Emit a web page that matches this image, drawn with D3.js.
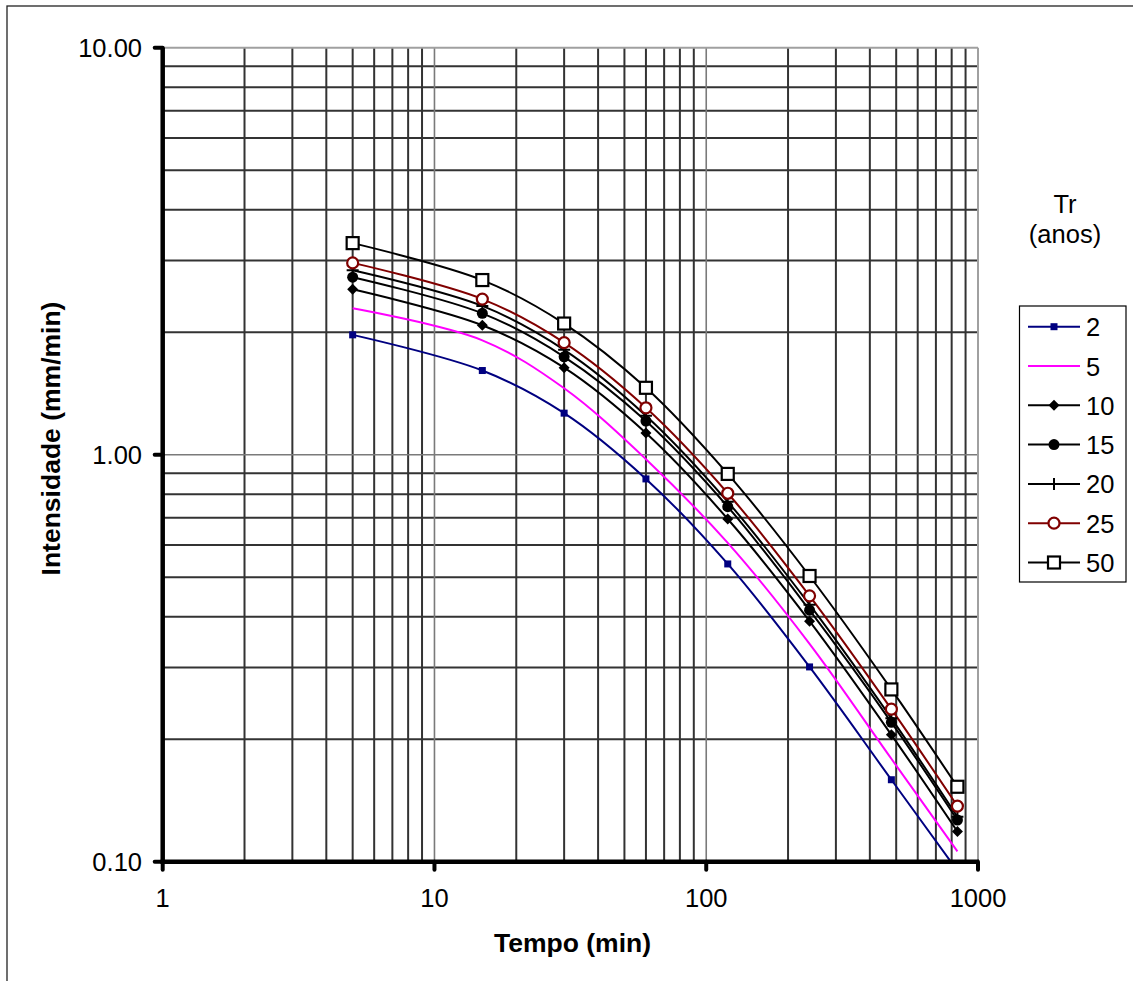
<!DOCTYPE html>
<html><head><meta charset="utf-8">
<script src="https://cdn.jsdelivr.net/npm/d3@7"></script>
<style>
body{margin:0;background:#fff;}
svg text{font-family:"Liberation Sans",Arial,sans-serif;fill:#000;}
</style></head>
<body><svg id="c" width="1133" height="981"></svg>
<script>
const tempo = [5, 15, 30, 60, 120, 240, 480, 840];
const seriesNames = ["2", "5", "10", "15", "20", "25", "50"];
const tr2  = [1.97, 1.61, 1.265, 0.872, 0.539, 0.301, 0.159, 0.095];
const tr5  = [2.29, 1.91, 1.456, 0.975, 0.607, 0.343, 0.179, 0.106];
const tr10 = [2.55, 2.08, 1.636, 1.13, 0.695, 0.390, 0.205, 0.1186];
const tr15 = [2.73, 2.225, 1.74, 1.21, 0.745, 0.415, 0.220, 0.1266];
const tr20 = [2.84, 2.32, 1.81, 1.247, 0.766, 0.428, 0.225, 0.129];
const tr25 = [2.96, 2.412, 1.885, 1.304, 0.804, 0.450, 0.237, 0.137];
const tr50 = [3.31, 2.686, 2.10, 1.46, 0.897, 0.5035, 0.265, 0.1528];
const xTicks = [1, 10, 100, 1000];
const yTicks = [0.1, 1, 10];

const seriesValues = [tr2, tr5, tr10, tr15, tr20, tr25, tr50];
const styles = [
  {color:"#000080", marker:"square"},
  {color:"#FF00FF", marker:"none"},
  {color:"#000000", marker:"diamond"},
  {color:"#000000", marker:"circle"},
  {color:"#000000", marker:"plus"},
  {color:"#800000", marker:"ocircle"},
  {color:"#000000", marker:"osquare"}
];

const svg = d3.select("#c");
const L = 162.7, R = 978, T = 47.7, B = 861.7;
const x = d3.scaleLog().domain([1, 1000]).range([L, R]);
const y = d3.scaleLog().domain([0.1, 10]).range([B, T]);

// outer border
svg.append("rect").attr("x", 7).attr("y", 6).attr("width", 1200).attr("height", 1200)
  .attr("fill", "none").attr("stroke", "#222").attr("stroke-width", 1.3);

// grid
const g = svg.append("g");
const minorX = [], majorX = [];
[1, 10, 100].forEach(d => { for (let k = 2; k <= 9; k++) minorX.push(d * k); });
const minorY = [];
[0.1, 1].forEach(d => { for (let k = 2; k <= 9; k++) minorY.push(d * k); });
g.selectAll(".mx").data(minorX).enter().append("line")
  .attr("x1", d => x(d)).attr("x2", d => x(d)).attr("y1", T).attr("y2", B)
  .attr("stroke", "#333").attr("stroke-width", 2);
g.selectAll(".my").data(minorY).enter().append("line")
  .attr("x1", L).attr("x2", R).attr("y1", d => y(d)).attr("y2", d => y(d))
  .attr("stroke", "#333").attr("stroke-width", 2);
g.selectAll(".Mx").data([10, 100]).enter().append("line")
  .attr("x1", d => x(d)).attr("x2", d => x(d)).attr("y1", T).attr("y2", B)
  .attr("stroke", "#7a7a7a").attr("stroke-width", 1.6);
g.selectAll(".My").data([1]).enter().append("line")
  .attr("x1", L).attr("x2", R).attr("y1", d => y(d)).attr("y2", d => y(d))
  .attr("stroke", "#7a7a7a").attr("stroke-width", 1.6);
// plot top/right borders
g.append("line").attr("x1", L).attr("x2", R).attr("y1", y(10)).attr("y2", y(10))
  .attr("stroke", "#a0a0a0").attr("stroke-width", 2);
g.append("line").attr("x1", x(1000)).attr("x2", x(1000)).attr("y1", T).attr("y2", B)
  .attr("stroke", "#a0a0a0").attr("stroke-width", 2);

// clip
svg.append("clipPath").attr("id", "clip").append("rect")
  .attr("x", L).attr("y", T).attr("width", R - L).attr("height", B - T);

const line = d3.line().x(d => x(d[0])).y(d => y(d[1])).curve(d3.curveCatmullRom.alpha(0.5));
const plot = svg.append("g").attr("clip-path", "url(#clip)");

function drawMarker(sel, type, color, cx, cy) {
  if (type === "square") {
    sel.append("rect").attr("x", cx - 3.5).attr("y", cy - 3.5).attr("width", 7).attr("height", 7).attr("fill", color);
  } else if (type === "diamond") {
    sel.append("path").attr("d", `M${cx},${cy-5.5}L${cx+5.5},${cy}L${cx},${cy+5.5}L${cx-5.5},${cy}Z`).attr("fill", color);
  } else if (type === "circle") {
    sel.append("circle").attr("cx", cx).attr("cy", cy).attr("r", 5.5).attr("fill", color);
  } else if (type === "plus") {
    sel.append("path").attr("d", `M${cx-6},${cy}H${cx+6}M${cx},${cy-6}V${cy+6}`).attr("stroke", color).attr("stroke-width", 2);
  } else if (type === "ocircle") {
    sel.append("circle").attr("cx", cx).attr("cy", cy).attr("r", 5.5).attr("fill", "#fff").attr("stroke", color).attr("stroke-width", 2.2);
  } else if (type === "osquare") {
    sel.append("rect").attr("x", cx - 6).attr("y", cy - 6).attr("width", 12).attr("height", 12).attr("fill", "#fff").attr("stroke", color).attr("stroke-width", 2.2);
  }
}

seriesValues.forEach((vals, i) => {
  const pts = tempo.map((t, j) => [t, vals[j]]);
  plot.append("path").attr("d", line(pts)).attr("fill", "none")
    .attr("stroke", styles[i].color).attr("stroke-width", 2);
});
seriesValues.forEach((vals, i) => {
  if (styles[i].marker === "none") return;
  tempo.forEach((t, j) => drawMarker(plot, styles[i].marker, styles[i].color, x(t), y(vals[j])));
});

// axes
const ax = svg.append("g");
ax.append("line").attr("x1", L).attr("x2", L).attr("y1", T).attr("y2", B + 2)
  .attr("stroke", "#000").attr("stroke-width", 4.5);
ax.append("line").attr("x1", L - 2).attr("x2", R + 1).attr("y1", B).attr("y2", B)
  .attr("stroke", "#000").attr("stroke-width", 4.5);
yTicks.forEach(v => {
  ax.append("line").attr("x1", L - 8).attr("x2", L).attr("y1", y(v)).attr("y2", y(v))
    .attr("stroke", "#000").attr("stroke-width", 4).attr("stroke-linecap", "round");
  ax.append("text").attr("x", 142).attr("y", y(v) + 9.2).attr("text-anchor", "end")
    .attr("font-size", "25.5px").text(v.toFixed(2));
});
xTicks.forEach(v => {
  ax.append("line").attr("x1", x(v)).attr("x2", x(v)).attr("y1", B).attr("y2", B + 8)
    .attr("stroke", "#000").attr("stroke-width", 4).attr("stroke-linecap", "round");
  ax.append("text").attr("x", x(v)).attr("y", 907).attr("text-anchor", "middle")
    .attr("font-size", "25.5px").text(String(v));
});

// titles
svg.append("text").attr("x", 572.5).attr("y", 952).attr("text-anchor", "middle")
  .attr("font-size", "26.5px").attr("font-weight", "bold").text("Tempo (min)");
svg.append("text").attr("transform", "translate(59.5,438.5) rotate(-90)").attr("text-anchor", "middle")
  .attr("font-size", "26.5px").attr("font-weight", "bold").text("Intensidade (mm/min)");

// legend title
svg.append("text").attr("x", 1065).attr("y", 213).attr("text-anchor", "middle").attr("font-size", "25.5px").text("Tr");
svg.append("text").attr("x", 1065).attr("y", 243).attr("text-anchor", "middle").attr("font-size", "25.5px").text("(anos)");

// legend
const lg = svg.append("g");
lg.append("rect").attr("x", 1019.5).attr("y", 306).attr("width", 106.5).attr("height", 276)
  .attr("fill", "#fff").attr("stroke", "#000").attr("stroke-width", 1.2);
seriesNames.forEach((name, i) => {
  const cy = 326.7 + i * 39.3;
  lg.append("line").attr("x1", 1028).attr("x2", 1080).attr("y1", cy).attr("y2", cy)
    .attr("stroke", styles[i].color).attr("stroke-width", 2);
  drawMarker(lg, styles[i].marker, styles[i].color, 1054, cy);
  lg.append("text").attr("x", 1086).attr("y", cy + 9.5).attr("font-size", "25.5px").text(name);
});
</script></body></html>
